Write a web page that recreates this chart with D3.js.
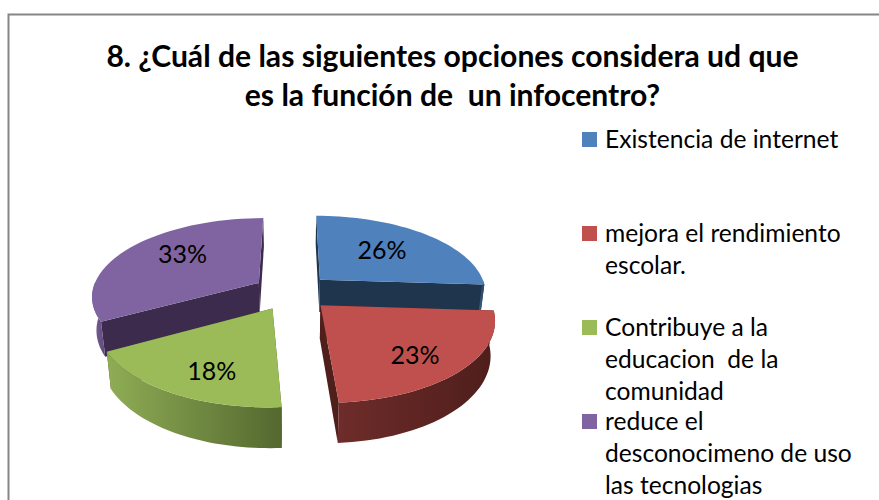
<!DOCTYPE html>
<html><head><meta charset="utf-8">
<script src="https://cdn.jsdelivr.net/npm/d3@7"></script>
<style>html,body{margin:0;padding:0;background:#fff;overflow:hidden}svg{display:block}text{font-family:Lato,sans-serif;fill:#000}</style>
</head><body><svg id="c" width="879" height="500"></svg>
<script>
const titleLines = ["8. ¿Cuál de las siguientes opciones considera ud que", "es la función de  un infocentro?"];
const categories = ["Existencia de internet", "mejora el rendimiento escolar.", "Contribuye a la educacion  de la comunidad", "reduce el desconocimeno de uso las tecnologias"];
const legendLines = [["Existencia de internet"], ["mejora el rendimiento", "escolar."], ["Contribuye a la", "educacion  de la", "comunidad"], ["reduce el", "desconocimeno de uso", "las tecnologias"]];
const values = [26, 23, 18, 33];
const topColors = ["#4f81bd", "#c0504d", "#9bbb59", "#8064a2"];
const cutColors = ["#1f344d", "#4f1f1c", "#4a5c2a", "#3c2b4c"];
const wallLeft = ["#3a5f8c", "#6e2c2a", "#8fad55", "#7a5f9a"];
const wallRight = ["#2a4566", "#4e1e1b", "#54682f", "#5f4a78"];

const svg = d3.select("#c");
svg.append("path").attr("d", "M8.5 500V14.5H879").attr("fill", "none").attr("stroke", "#868686").attr("stroke-width", 2);

titleLines.forEach((t, i) => svg.append("text").attr("x", 452.5).attr("y", [67, 106][i]).attr("text-anchor", "middle").attr("font-size", 30.1).attr("font-weight", 700).style("white-space", "pre").text(t));

const cx = 292, cy = 292, A = 167, B = 77.6, k = 0.157, D = 33, explode = 0.235, taper = 0.022;
const labelReach = [0.5, 0.72, 0.68, 0.56];
const labelShift = [[7, -5], [-3, 5], [4, 9], [-2, -7]];
const color = d3.scaleOrdinal(categories, topColors);
const pieGen = d3.pie().sort(null).value(d => d);
const arcs = pieGen(values);
const project = (u, v, h = 0) => { const s = 1 / (1 - k * v); return [cx + A * u * s * (1 - taper * h), cy + B * v * s + h * D * s]; };
const polar = (a, r, d) => { const m = (d.startAngle + d.endAngle) / 2; return [r * Math.sin(a) + explode * Math.sin(m), -r * Math.cos(a) - explode * Math.cos(m)]; };
const line = d3.line();
const steps = (a0, a1) => d3.range(0, 41).map(i => a0 + (a1 - a0) * i / 40);

const defs = svg.append("defs");
const order = [0, 3, 2, 1];
order.forEach(i => {
  const d = arcs[i], g = svg.append("g");
  const apex = polar(0, 0, d);
  [d.startAngle, d.endAngle].forEach(a => {
    const e = polar(a, 1, d);
    g.append("path").attr("fill", cutColors[i]).attr("d", line([project(...apex), project(...e), project(...e, 1), project(...apex, 1)]) + "Z");
  });
  const a0 = Math.max(d.startAngle, Math.PI / 2), a1 = Math.min(d.endAngle, 3 * Math.PI / 2);
  if (a1 > a0) {
    const pts = steps(a0, a1).map(a => polar(a, 1, d));
    const ring = pts.map(p => project(...p)).concat(pts.slice().reverse().map(p => project(...p, 1)));
    const xs = d3.extent(ring, p => p[0]);
    const gid = "w" + i;
    const lg = defs.append("linearGradient").attr("id", gid).attr("gradientUnits", "userSpaceOnUse").attr("x1", xs[0]).attr("x2", xs[1]).attr("y1", 0).attr("y2", 0);
    lg.append("stop").attr("offset", 0).attr("stop-color", wallLeft[i]);
    lg.append("stop").attr("offset", 1).attr("stop-color", wallRight[i]);
    g.append("path").attr("fill", `url(#${gid})`).attr("d", line(ring) + "Z");
  }
  const topPts = [apex].concat(steps(d.startAngle, d.endAngle).map(a => polar(a, 1, d))).map(p => project(...p));
  g.append("path").attr("fill", color(categories[i])).attr("d", line(topPts) + "Z");
});
arcs.forEach((d, i) => {
  const m = (d.startAngle + d.endAngle) / 2;
  const p = project(...polar(m, labelReach[i], d));
  svg.append("text").attr("x", p[0] + labelShift[i][0]).attr("y", p[1] + 8 + labelShift[i][1]).attr("text-anchor", "middle").attr("font-size", 25).text(Math.round(d.value) + "%");
});

const legendBase = [147, 241, 335, 429];
legendLines.forEach((ls, i) => {
  svg.append("rect").attr("x", 582).attr("y", legendBase[i] - 15).attr("width", 15).attr("height", 15).attr("fill", topColors[i]);
  ls.forEach((t, j) => svg.append("text").attr("x", 605).attr("y", legendBase[i] + 1 + j * 32).attr("font-size", 24.6).style("white-space", "pre").text(t));
});
</script></body></html>
